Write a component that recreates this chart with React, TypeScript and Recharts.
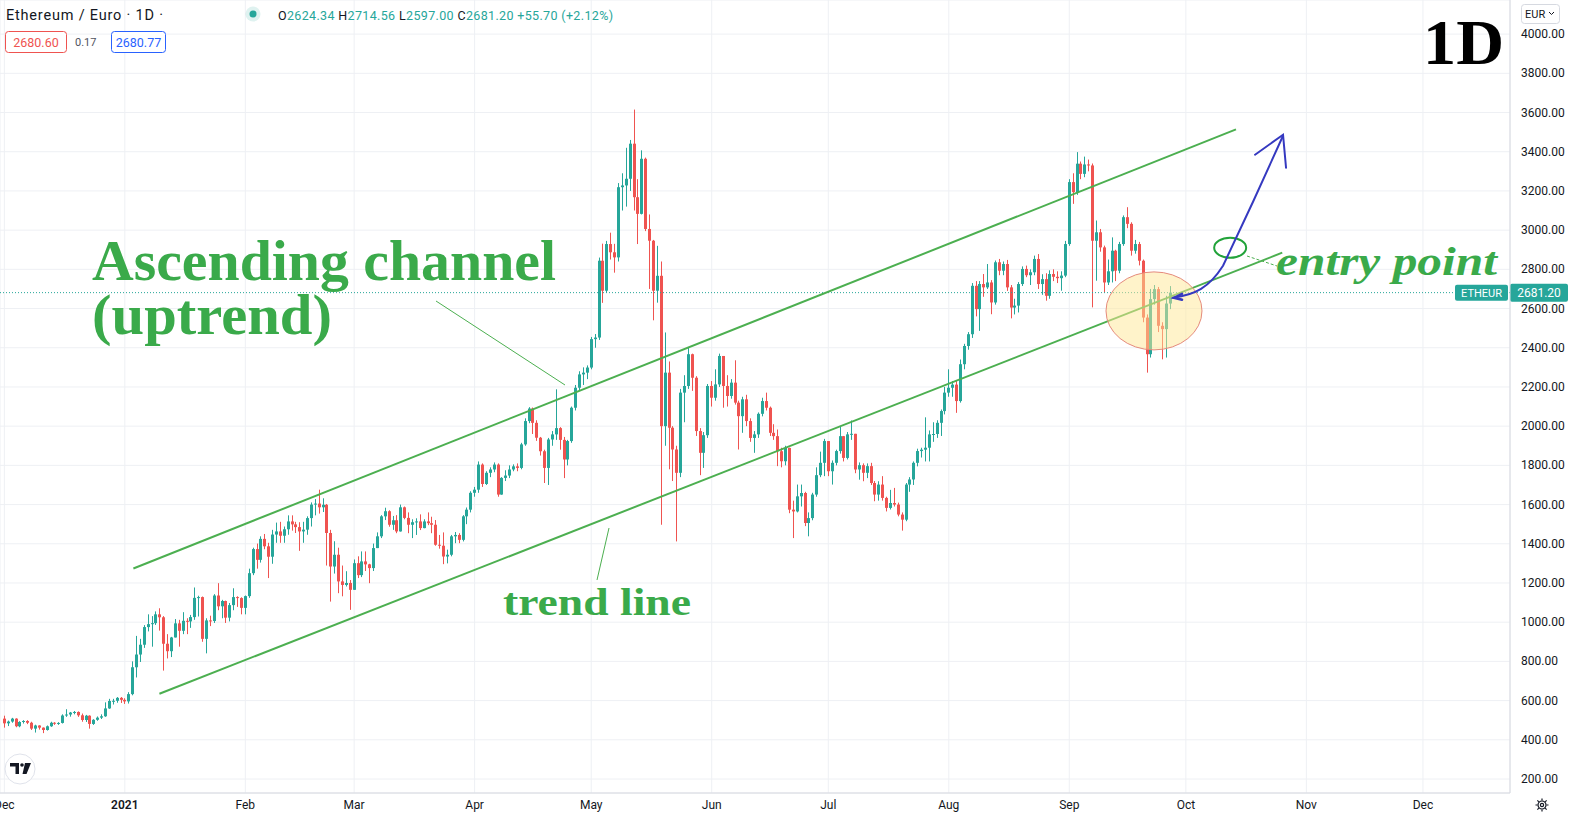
import React from "react";
import {
  ComposedChart,
  Bar,
  XAxis,
  YAxis,
  CartesianGrid,
  ReferenceLine,
  ReferenceDot,
} from "recharts";

const UP = "#26a69a";
const DOWN = "#ef5350";
const GREEN = "#4caf50";
const TEXT_GREEN = "#3aaa4a";
const UI_FONT = "Roboto, 'Liberation Sans', sans-serif";
const SERIF = "'Liberation Serif', 'DejaVu Serif', serif";

// ETH/EUR daily candles as [close, high, low]; open = previous close
// Dec 1 2020 .. Sep 27 2021
const firstOpen = 508;

const dec20 = [
  [484, 523, 462], [493, 498, 470], [508, 512, 487], [469, 510, 464], [491, 495, 464],
  [496, 500, 483], [487, 500, 480], [457, 492, 450], [473, 477, 437], [462, 474, 452],
  [450, 463, 434], [469, 473, 447], [487, 492, 466], [483, 490, 476], [486, 490, 476],
  [524, 530, 483], [529, 556, 517], [539, 542, 518], [542, 547, 530], [525, 545, 517],
  [501, 534, 492], [523, 527, 491], [481, 525, 457], [502, 505, 476], [513, 519, 497],
  [520, 530, 506], [560, 591, 517], [598, 609, 558], [599, 609, 580], [614, 618, 589],
  [604, 618, 588],
];

const jan21 = [
  [596, 612, 583], [633, 643, 585], [770, 800, 627], [835, 930, 718], [885, 915, 797],
  [975, 985, 869], [990, 1040, 953], [995, 1031, 875], [1040, 1055, 986], [1025, 1071, 957],
  [890, 1031, 753], [852, 939, 815], [922, 925, 822], [994, 1016, 922], [956, 1012, 875],
  [1007, 1051, 939], [1004, 1020, 939], [1026, 1037, 971], [1124, 1177, 1012], [1128, 1135, 1029],
  [915, 1131, 900], [1009, 1020, 841], [1006, 1033, 980], [1136, 1143, 996], [1081, 1199, 1061],
  [1108, 1114, 1020], [1023, 1110, 996], [1087, 1098, 1004], [1128, 1173, 1061], [1123, 1132, 1078],
  [1073, 1127, 1040],
];

const feb21 = [
  [1133, 1136, 1040], [1250, 1273, 1124], [1373, 1380, 1240], [1318, 1401, 1273], [1425, 1438, 1304],
  [1387, 1450, 1372], [1334, 1405, 1225], [1447, 1471, 1298], [1463, 1508, 1405], [1441, 1512, 1405],
  [1474, 1488, 1405], [1514, 1545, 1446], [1499, 1545, 1467], [1485, 1512, 1455], [1463, 1510, 1364],
  [1472, 1512, 1405], [1531, 1540, 1446], [1600, 1611, 1488], [1605, 1628, 1545], [1586, 1676, 1554],
  [1599, 1632, 1562], [1455, 1603, 1289], [1284, 1471, 1105], [1344, 1413, 1248], [1208, 1380, 1148],
  [1190, 1289, 1132], [1200, 1260, 1182], [1165, 1215, 1063],
];

const mar21 = [
  [1301, 1320, 1165], [1240, 1336, 1225], [1310, 1361, 1230], [1295, 1361, 1261], [1276, 1298, 1199],
  [1378, 1401, 1261], [1438, 1458, 1378], [1540, 1546, 1429], [1566, 1584, 1521], [1497, 1571, 1487],
  [1520, 1542, 1471], [1463, 1546, 1454], [1586, 1600, 1462], [1532, 1590, 1525], [1497, 1560, 1454],
  [1510, 1525, 1429], [1514, 1530, 1445], [1480, 1550, 1470], [1514, 1525, 1479], [1505, 1560, 1495],
  [1497, 1538, 1454], [1395, 1521, 1390], [1390, 1445, 1375], [1335, 1458, 1296], [1344, 1370, 1300],
  [1438, 1445, 1336], [1445, 1460, 1403], [1420, 1454, 1403], [1540, 1546, 1412], [1574, 1585, 1500],
  [1660, 1668, 1560],
];

const apr21 = [
  [1676, 1690, 1640], [1804, 1820, 1660], [1705, 1810, 1690], [1762, 1770, 1700], [1779, 1790, 1740],
  [1804, 1815, 1765], [1651, 1810, 1640], [1736, 1740, 1650], [1748, 1775, 1720], [1779, 1800, 1735],
  [1795, 1805, 1770], [1787, 1810, 1770], [1907, 1915, 1780], [2026, 2040, 1900], [2090, 2097, 2015],
  [2017, 2095, 1960], [1941, 2030, 1925], [1872, 1945, 1850], [1787, 1880, 1710], [1932, 1940, 1700],
  [1958, 1975, 1900], [1990, 2188, 1930], [1930, 1995, 1880], [1830, 1945, 1735], [1924, 1930, 1800],
  [2094, 2100, 1915], [2196, 2210, 2080], [2264, 2280, 2180], [2273, 2300, 2210], [2299, 2310, 2240],
];

const may21 = [
  [2444, 2455, 2290], [2452, 2470, 2400], [2844, 2860, 2440], [2691, 2931, 2629], [2929, 2945, 2680],
  [2887, 2987, 2850], [2861, 2930, 2783], [3219, 3240, 2840], [3228, 3290, 3100], [3262, 3420, 3120],
  [3441, 3460, 3200], [3168, 3615, 3100], [3083, 3260, 2929], [3364, 3407, 3080], [3006, 3370, 2995],
  [2946, 3080, 2700], [2691, 2950, 2540], [2767, 2920, 2630], [2000, 2840, 1497], [2273, 2478, 1900],
  [1992, 2330, 1780], [1881, 2000, 1720], [1762, 1900, 1412], [2171, 2190, 1740], [2205, 2260, 2020],
  [2367, 2400, 2190], [2247, 2370, 2180], [1975, 2255, 1950], [1864, 1990, 1750], [1954, 1970, 1787],
  [2205, 2215, 1940],
];

const jun21 = [
  [2145, 2230, 2100], [2213, 2290, 2130], [2358, 2370, 2200], [2205, 2358, 2094], [2154, 2260, 2100],
  [2222, 2240, 2140], [2120, 2336, 2110], [2051, 2130, 1881], [2137, 2150, 1966], [2026, 2160, 2000],
  [1940, 2040, 1920], [1958, 1975, 1864], [2063, 2070, 1940], [2128, 2145, 2050], [2094, 2171, 2080],
  [1966, 2100, 1950], [1949, 2010, 1930], [1872, 1983, 1796], [1821, 1890, 1790], [1889, 1900, 1800],
  [1574, 1890, 1556], [1565, 1620, 1429], [1642, 1702, 1560], [1659, 1702, 1590], [1506, 1665, 1490],
  [1531, 1560, 1438], [1651, 1660, 1520], [1750, 1790, 1640], [1813, 1870, 1740], [1924, 1935, 1745],
];

const jul21 = [
  [1770, 1924, 1745], [1813, 1825, 1702], [1873, 1880, 1800], [1949, 2000, 1860], [1838, 1950, 1820],
  [1958, 1970, 1830], [1961, 2029, 1930], [1779, 1961, 1760], [1801, 1815, 1727], [1762, 1810, 1719],
  [1796, 1810, 1735], [1710, 1813, 1700], [1651, 1720, 1617], [1702, 1719, 1620], [1634, 1745, 1620],
  [1583, 1640, 1565], [1608, 1675, 1575], [1600, 1685, 1590], [1549, 1610, 1540], [1523, 1560, 1467],
  [1702, 1710, 1515], [1728, 1740, 1665], [1813, 1820, 1700], [1873, 1885, 1795], [1880, 1890, 1840],
  [1890, 2045, 1820], [1958, 1978, 1820], [1960, 2020, 1920], [2017, 2030, 1940], [2077, 2085, 1950],
  [2171, 2200, 2060],
];

const aug21 = [
  [2196, 2290, 2150], [2212, 2230, 2150], [2128, 2230, 2068], [2316, 2340, 2120], [2409, 2420, 2290],
  [2469, 2480, 2390], [2716, 2730, 2450], [2597, 2740, 2560], [2725, 2740, 2486], [2708, 2776, 2660],
  [2733, 2827, 2700], [2631, 2745, 2571], [2836, 2845, 2620], [2793, 2853, 2770], [2827, 2840, 2770],
  [2708, 2848, 2690], [2605, 2720, 2550], [2615, 2650, 2570], [2725, 2735, 2580], [2802, 2815, 2715],
  [2770, 2819, 2760], [2785, 2800, 2720], [2853, 2870, 2770], [2725, 2878, 2700], [2750, 2775, 2670],
  [2665, 2780, 2640], [2776, 2795, 2650], [2762, 2800, 2740], [2755, 2790, 2730], [2768, 2790, 2691],
  [2929, 2945, 2760],
];

const sep21 = [
  [3245, 3260, 2920], [3194, 3290, 3134], [3339, 3398, 3180], [3287, 3350, 3260], [3335, 3375, 3270],
  [3330, 3360, 3300], [2946, 3340, 2606], [2989, 3049, 2742], [2912, 3006, 2890], [2733, 2921, 2682],
  [2790, 2850, 2720], [2895, 2963, 2733], [2793, 2900, 2740], [2929, 2940, 2780], [3066, 3075, 2920],
  [3032, 3117, 3010], [2895, 3040, 2870], [2929, 2950, 2880], [2844, 2940, 2820], [2554, 2850, 2530],
  [2367, 2570, 2273], [2648, 2700, 2350], [2699, 2720, 2620], [2512, 2710, 2480], [2495, 2530, 2341],
  [2625.5, 2665, 2350], [2681.2, 2714.56, 2597],
];

// x axis: day index from Dec 1 2020, ticks at month starts
const monthTicks = [0, 31, 62, 90, 121, 151, 182, 212, 243, 274, 304, 335, 365];
const monthLabels = ["Dec", "2021", "Feb", "Mar", "Apr", "May", "Jun", "Jul", "Aug", "Sep", "Oct", "Nov", "Dec"];
const priceTicks = [
  200, 400, 600, 800, 1000, 1200, 1400, 1600, 1800, 2000,
  2200, 2400, 2600, 2800, 3000, 3200, 3400, 3600, 3800, 4000,
];

// drawn channel (day index, price)
const upperChannel = [{ x: 33.2, y: 1274 }, { x: 316.9, y: 3514 }];
const lowerChannel = [{ x: 39.9, y: 635 }, { x: 328.8, y: 2885 }];
const zoneCenter = { x: 295.8, y: 2588 };
const entryCenter = { x: 315.4, y: 2910 };
const arrowStart = { x: 300.7, y: 2655 };

const lastPrice = 2681.2;

const rows = [...dec20, ...jan21, ...feb21, ...mar21, ...apr21, ...may21, ...jun21, ...jul21, ...aug21, ...sep21];
const candles = rows.map((r, i) => ({
  d: i,
  o: i === 0 ? firstOpen : rows[i - 1][0],
  c: r[0],
  h: r[1],
  l: r[2],
  range: [r[2], r[1]],
}));

function Candle(props: any) {
  const { x, y, width, height, payload } = props;
  if (!payload || x == null) return null;
  const { o, c, h, l } = payload;
  const top = Math.min(y, y + height);
  const span = Math.abs(height);
  const k = h > l ? span / (h - l) : 0;
  const py = (v: number) => top + (h - v) * k;
  const color = c >= o ? UP : DOWN;
  const cx = Math.round(x + width / 2) + 0.5;
  const b1 = py(Math.max(o, c));
  const b2 = py(Math.min(o, c));
  return (
    <g>
      <line x1={cx} x2={cx} y1={top} y2={top + span} stroke={color} strokeWidth={1} />
      <rect x={cx - 1.5} y={b1} width={3} height={Math.max(1, b2 - b1)} fill={color} />
    </g>
  );
}

const XTick = (p: any) => {
  const i = monthTicks.indexOf(p.payload.value);
  const label = monthLabels[i];
  return (
    <text x={p.x} y={809} textAnchor="middle" fontSize={12} fontFamily={UI_FONT}
      fontWeight={label === "2021" ? 600 : 400} fill="#131722">
      {label}
    </text>
  );
};

const YTick = (p: any) => (
  <text x={1521} y={p.y + 4} fontSize={12} fontFamily={UI_FONT} fill="#131722">
    {Number(p.payload.value).toFixed(2)}
  </text>
);

const PriceTag = (p: any) => {
  const vb = p.viewBox || {};
  const right = (vb.x || 0) + (vb.width || 0);
  const y = vb.y || 0;
  return (
    <g>
      <rect x={right - 55} y={y - 8} width={53} height={16} rx={2} fill={UP} />
      <text x={right - 28.5} y={y + 4} textAnchor="middle" fontSize={11} fontFamily={UI_FONT} fill="#fff">ETHEUR</text>
      <rect x={right} y={y - 9} width={58} height={18} rx={2} fill={UP} />
      <text x={right + 29} y={y + 4.5} textAnchor="middle" fontSize={12} fontFamily={UI_FONT} fill="#fff">
        {lastPrice.toFixed(2)}
      </text>
    </g>
  );
};

const Zone = (p: any) => (
  <ellipse cx={p.cx} cy={p.cy} rx={48} ry={39} fill="rgba(255, 232, 150, 0.5)" stroke="#e58a7c" strokeWidth={1} />
);

const EntryRing = (p: any) => (
  <ellipse cx={p.cx} cy={p.cy} rx={16} ry={10} fill="rgba(255,255,255,0.85)" stroke="#22a33a" strokeWidth={2} />
);

const BlueArrow = (p: any) => (
  <g transform={`translate(${p.cx},${p.cy})`} fill="none" stroke="#3539c0" strokeWidth={2} strokeLinecap="round">
    <path d="M0 0 C 22 -3, 36 -10, 50 -32 L 80 -96 L 110 -162" />
    <path d="M82 -143 L 110 -163 L 113 -130" />
    <path d="M9 -4 L 1 0 L 9 2" strokeWidth={2.5} />
  </g>
);

export default function App() {
  return (
    <div style={{ position: "absolute", left: 0, top: 0, width: 1572, height: 818, background: "#fff" }}>
      <ComposedChart width={1572} height={818} data={candles} margin={{ top: 0, right: 0, bottom: 0, left: 0 }}>
        <CartesianGrid stroke="#eef0f4" strokeWidth={1} />
        <XAxis
          dataKey="d"
          type="number"
          domain={[-1.12, 387.4]}
          allowDataOverflow
          ticks={monthTicks}
          interval={0}
          height={25}
          tickLine={false}
          axisLine={{ stroke: "#d6d9e0" }}
          tick={XTick}
        />
        <YAxis
          orientation="right"
          type="number"
          domain={[128.6, 4174]}
          allowDataOverflow
          ticks={priceTicks}
          interval={0}
          width={62}
          tickLine={false}
          axisLine={{ stroke: "#d6d9e0" }}
          tick={YTick}
        />
        <Bar dataKey="range" barSize={3} shape={Candle} isAnimationActive={false} />
        <ReferenceLine y={lastPrice} stroke={UP} strokeDasharray="1 2" strokeWidth={1} label={PriceTag} />
        <ReferenceLine segment={upperChannel} stroke={GREEN} strokeWidth={2} />
        <ReferenceLine segment={lowerChannel} stroke={GREEN} strokeWidth={2} />
        <ReferenceDot x={zoneCenter.x} y={zoneCenter.y} shape={Zone} />
        <ReferenceDot x={entryCenter.x} y={entryCenter.y} shape={EntryRing} />
        <ReferenceDot x={arrowStart.x} y={arrowStart.y} shape={BlueArrow} />
      </ComposedChart>

      <svg width={1572} height={818} style={{ position: "absolute", left: 0, top: 0, pointerEvents: "none" }}>
        {/* header */}
        <text x={6} y={20} fontSize={14.5} fontFamily={UI_FONT} fill="#131722" textLength={157} lengthAdjust="spacing">Ethereum / Euro · 1D ·</text>
        <circle cx={253} cy={14} r={7.5} fill={UP} opacity={0.15} />
        <circle cx={253} cy={14} r={3.5} fill={UP} />
        <text x={278} y={19.5} fontSize={12.5} fontFamily={UI_FONT} textLength={335} lengthAdjust="spacing">
          <tspan fill="#131722">O</tspan><tspan fill={UP}>2624.34 </tspan>
          <tspan fill="#131722">H</tspan><tspan fill={UP}>2714.56 </tspan>
          <tspan fill="#131722">L</tspan><tspan fill={UP}>2597.00 </tspan>
          <tspan fill="#131722">C</tspan><tspan fill={UP}>2681.20 +55.70 (+2.12%)</tspan>
        </text>
        <rect x={5.5} y={31.5} width={61} height={21} rx={3} fill="#fff" stroke={DOWN} />
        <text x={36} y={46.5} textAnchor="middle" fontSize={12.5} fontFamily={UI_FONT} fill={DOWN}>2680.60</text>
        <text x={75} y={46} fontSize={11} fontFamily={UI_FONT} fill="#50535e">0.17</text>
        <rect x={111.5} y={31.5} width={54} height={21} rx={3} fill="#fff" stroke="#2962ff" />
        <text x={138.5} y={46.5} textAnchor="middle" fontSize={12.5} fontFamily={UI_FONT} fill="#2962ff">2680.77</text>

        {/* currency button */}
        <rect x={1521.5} y={4.5} width={38} height={19} rx={3} fill="#fff" stroke="#d6d9e0" />
        <text x={1525} y={18} fontSize={11} fontFamily={UI_FONT} fill="#131722">EUR</text>
        <path d="M1549 12 L1551.5 14.5 L1554 12" fill="none" stroke="#131722" strokeWidth={1} />

        {/* timeframe */}
        <text x={1423} y={64} fontSize={64} fontWeight="bold" fontFamily={SERIF} fill="#000" textLength={81} lengthAdjust="spacingAndGlyphs">1D</text>

        {/* annotations */}
        <text x={92} y={280} fontSize={57} fontWeight="bold" fontFamily={SERIF} fill={TEXT_GREEN} textLength={464} lengthAdjust="spacingAndGlyphs">Ascending channel</text>
        <text x={92} y={334} fontSize={57} fontWeight="bold" fontFamily={SERIF} fill={TEXT_GREEN} textLength={240} lengthAdjust="spacingAndGlyphs">(uptrend)</text>
        <line x1={436} y1={301} x2={565} y2={385} stroke={GREEN} strokeWidth={1} />
        <text x={503} y={615} fontSize={38} fontWeight="bold" fontFamily={SERIF} fill={TEXT_GREEN} textLength={188} lengthAdjust="spacingAndGlyphs">trend line</text>
        <line x1={609} y1={528} x2={597} y2={580} stroke={GREEN} strokeWidth={1} />
        <text x={1276} y={275} fontSize={39} fontWeight="bold" fontStyle="italic" fontFamily={SERIF} fill={TEXT_GREEN} textLength={221} lengthAdjust="spacingAndGlyphs">entry point</text>
        <line x1={1247} y1={256} x2={1277} y2={266} stroke={GREEN} strokeWidth={1} strokeDasharray="3 2" />

        {/* logo */}
        <circle cx={20} cy={769} r={15} fill="#fff" stroke="#e0e3eb" />
        <path d="M10 763 H19 V774 H15.5 V766.5 H10 Z" fill="#131722" />
        <circle cx={22} cy={765} r={1.8} fill="#131722" />
        <path d="M25 763 H31 L26.5 774 H22.5 Z" fill="#131722" />

        {/* settings gear */}
        <g transform="translate(1542,805)" stroke="#131722" fill="none" strokeWidth={1.2}>
          <circle r={4} />
          <circle r={1.6} />
          <path d="M0 -6.5 V-4.5 M0 4.5 V6.5 M-6.5 0 H-4.5 M4.5 0 H6.5 M-4.6 -4.6 L-3.2 -3.2 M3.2 3.2 L4.6 4.6 M-4.6 4.6 L-3.2 3.2 M3.2 -3.2 L4.6 -4.6" />
        </g>
      </svg>
    </div>
  );
}
